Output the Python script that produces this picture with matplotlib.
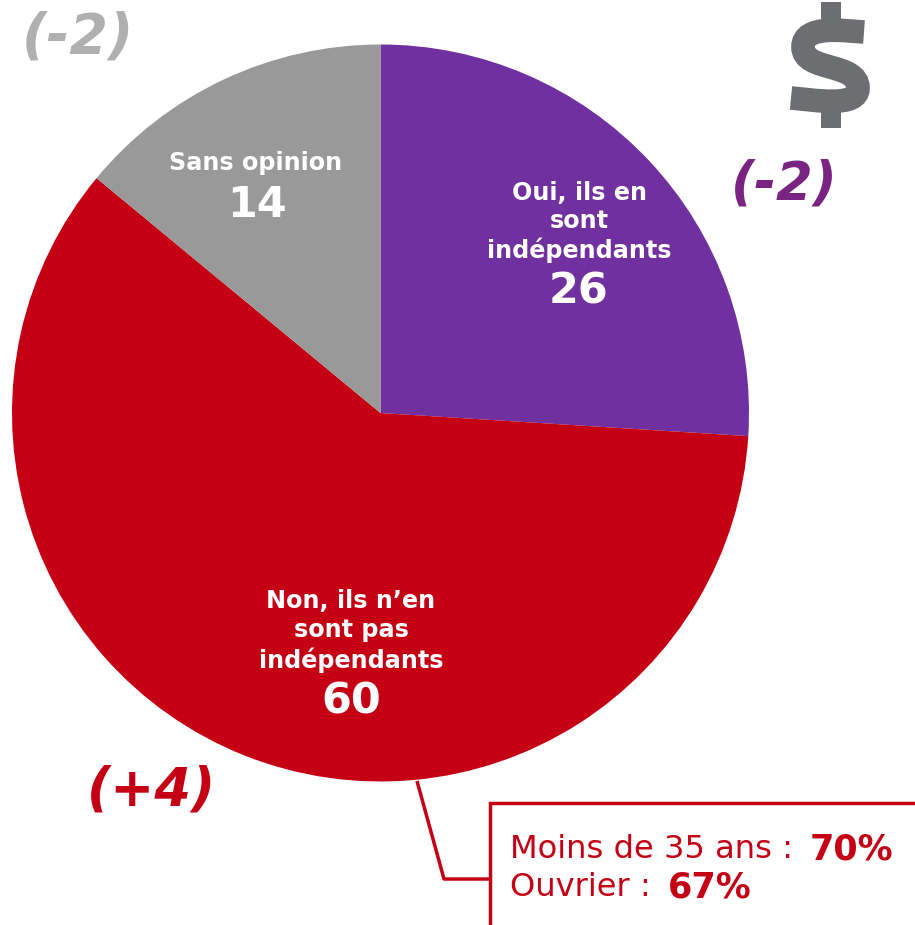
import matplotlib
matplotlib.use("Agg")
import matplotlib.pyplot as plt
from matplotlib.patches import Rectangle, PathPatch
from matplotlib.path import Path

W, H = 915, 925

labels = ["Oui, ils en\nsont\nindépendants", "Non, ils n’en\nsont pas\nindépendants", "Sans opinion"]
values = [26, 60, 14]
colors = ["#7030A0", "#C50014", "#999999"]
changes = ["(-2)", "(+4)", "(-2)"]
callout_rows = [("Moins de 35 ans :", "70%"), ("Ouvrier :", "67%")]

plt.rcParams["font.family"] = ["DejaVu Sans"]

fig = plt.figure(figsize=(W / 100, H / 100), dpi=100)
ax = fig.add_axes([0, 0, 1, 1])

# pie in pixel coordinates, y axis is flipped so angles run clockwise on screen
wedges, _ = ax.pie(values, colors=colors, startangle=-90, counterclock=True,
                   center=(380.5, 413), radius=368.5, frame=True)
ax.set_xlim(0, W)
ax.set_ylim(H, 0)
ax.set_aspect("auto")
ax.axis("off")

white = dict(color="white", fontweight="bold", ha="center", va="center")
ax.text(579, 222, labels[0], fontsize=17.2, linespacing=1.24, **white)
ax.text(579, 291, str(values[0]), fontsize=31, **white)
ax.text(351, 631, labels[1], fontsize=17.2, linespacing=1.27, **white)
ax.text(351, 702, str(values[1]), fontsize=31, **white)
ax.text(256, 163, labels[2], fontsize=17.2, **white)
ax.text(257, 205, str(values[2]), fontsize=31, **white)

chg = dict(fontweight="bold", fontstyle="italic", ha="center", va="center")
ax.text(784, 185, changes[0], color="#7B2382", fontsize=38, **chg)
ax.text(152, 791, changes[1], color="#C50014", fontsize=38, **chg)
ax.text(78, 37, changes[2], color="#B0B0B0", fontsize=40, **chg)

# dollar sign icon: thick S curve plus the two stubs of the bar
s_curve = Path([(864, 32), (845, 31), (803, 24), (803, 47),
                (803, 72), (858, 62), (858, 88),
                (858, 108), (815, 100), (791, 98)],
               [Path.MOVETO] + [Path.CURVE4] * 9)
ax.add_patch(PathPatch(s_curve, facecolor="none", edgecolor="#6D6E71", lw=17, capstyle="butt"))
ax.add_patch(Rectangle((821, 2), 20, 22, facecolor="#6D6E71", edgecolor="none"))
ax.add_patch(Rectangle((821, 106), 20, 22, facecolor="#6D6E71", edgecolor="none"))

# callout box, open at the bottom edge of the image
ax.plot([417, 444, 490], [781, 879, 879], color="#C50014", lw=2.5, solid_capstyle="butt", zorder=3)
ax.add_patch(Rectangle((490, 803), 440, 140, facecolor="white", edgecolor="#C50014", lw=2.5, zorder=4))
ypos = [849, 887]
for (txt, pct), y in zip(callout_rows, ypos):
    t = ax.text(510, y, txt, color="#C50014", fontsize=23.1, ha="left", va="center", zorder=5)
    fig.canvas.draw()
    bb = t.get_window_extent()
    ax.text(bb.x1 + 17, y, pct, color="#C50014", fontsize=25.2, fontweight="bold", ha="left", va="center", zorder=5)

fig.savefig("out.png", dpi=100)
